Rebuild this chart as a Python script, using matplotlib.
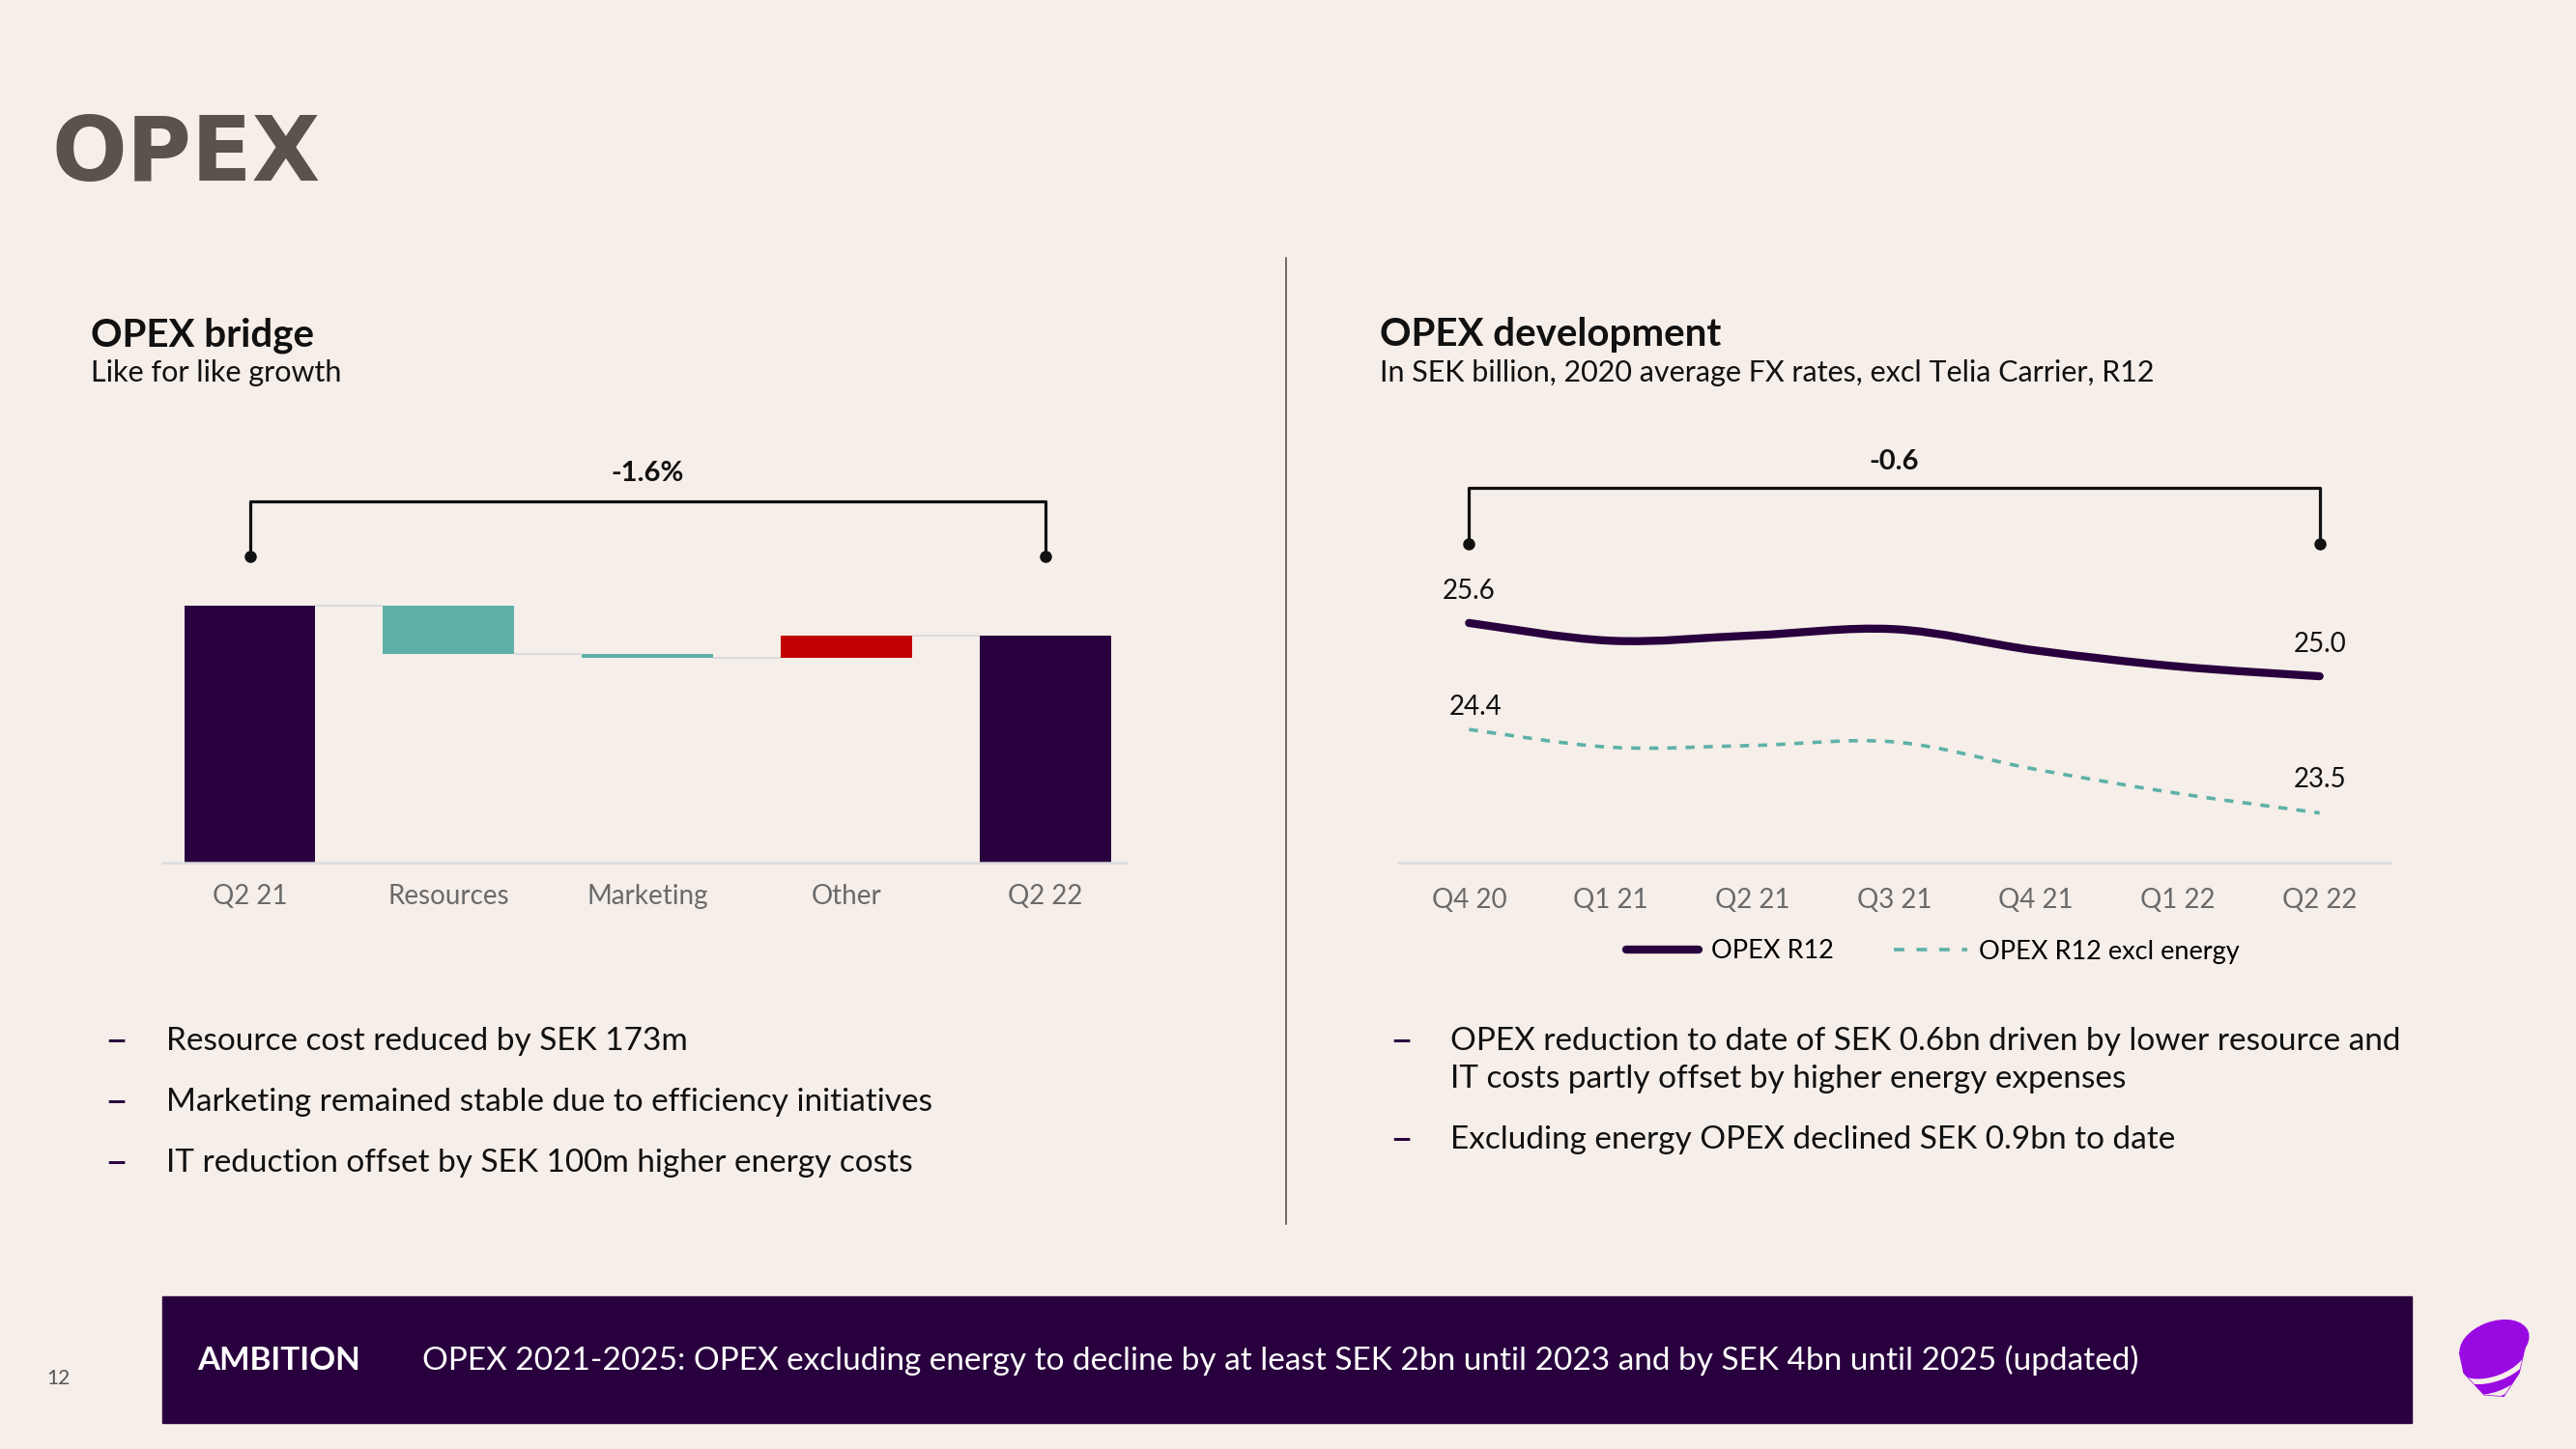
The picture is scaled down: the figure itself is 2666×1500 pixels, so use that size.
import matplotlib.pyplot as plt
import numpy as np
import matplotlib.transforms as mtransforms
from matplotlib.path import Path
from matplotlib.patches import PathPatch, Rectangle, Ellipse, Arc, Polygon
from matplotlib.lines import Line2D

plt.rcParams['font.family'] = ['Lato', 'DejaVu Sans']

# OPEX bridge, like for like (SEK m)
bridge_labels = ['Q2 21', 'Resources', 'Marketing', 'Other', 'Q2 22']
bridge_start = 6690
bridge_steps = [-173, -15, 81]
bridge_change = '-1.6%'

# OPEX development, SEK bn R12
quarters = ['Q4 20', 'Q1 21', 'Q2 21', 'Q3 21', 'Q4 21', 'Q1 22', 'Q2 22']
opex_r12 = [25.6, 25.40, 25.46, 25.53, 25.29, 25.11, 25.0]
opex_excl_energy = [24.4, 24.2, 24.22, 24.26, 23.95, 23.68, 23.46]
dev_change = '-0.6'

left_bullets = ['Resource cost reduced by SEK 173m',
                'Marketing remained stable due to efficiency initiatives',
                'IT reduction offset by SEK 100m higher energy costs']
right_bullets = [['OPEX reduction to date of SEK 0.6bn driven by lower resource and',
                  'IT costs partly offset by higher energy expenses'],
                 ['Excluding energy OPEX declined SEK 0.9bn to date']]

BG = '#f6eee8'
PURPLE = '#29003e'
TEAL = '#5db1a8'
RED = '#c00000'
GRID = '#dcdcdc'
TICK = '#6a6a6a'
TXT = '#111111'

W, H = 2666, 1500
def fx(x):
    return x / W
def fy(y):
    return 1 - y / H

fig = plt.figure(figsize=(26.66, 15), dpi=100, facecolor=BG)

# headings
fig.text(fx(54), fy(187), 'OPEX', fontsize=66, fontweight='bold', color='#5a524d', va='baseline',
         family='DejaVu Sans')
fig.text(fx(94), fy(358), 'OPEX bridge', fontsize=29, fontweight='bold', color=TXT, va='baseline')
fig.text(fx(94), fy(395), 'Like for like growth', fontsize=22, color=TXT, va='baseline')
fig.text(fx(1428), fy(358), 'OPEX development', fontsize=29, fontweight='bold', color=TXT, va='baseline')
fig.text(fx(1428), fy(395), 'In SEK billion, 2020 average FX rates, excl Telia Carrier, R12',
         fontsize=22, color=TXT, va='baseline')

# ---- waterfall
ax1 = fig.add_axes([fx(168), fy(893), (1166 - 168) / W, (893 - 440) / H])
ax1.set_facecolor('none')
totals = np.cumsum([bridge_start] + bridge_steps)
bw = 0.66
ax1.bar(0, bridge_start, width=bw, color=PURPLE)
for i, step in enumerate(bridge_steps):
    lo = min(totals[i], totals[i + 1])
    ax1.bar(i + 1, abs(step), bottom=lo, width=bw, color=TEAL if step < 0 else RED)
ax1.bar(4, totals[-1], width=bw, color=PURPLE)
for i in range(4):
    ax1.hlines(totals[i], i + bw / 2, i + 1 - bw / 2, color=GRID, lw=1.5)
ax1.set_xlim(-0.44, 4.41)
ax1.set_ylim(5762, 7342)
ax1.set_xticks(range(5), bridge_labels)
ax1.set_yticks([])
for s in ['top', 'left', 'right']:
    ax1.spines[s].set_visible(False)
ax1.spines['bottom'].set_color(GRID)
ax1.spines['bottom'].set_linewidth(1.8)
ax1.tick_params(axis='x', length=0, pad=16, labelsize=20, labelcolor=TICK)

tr1 = mtransforms.blended_transform_factory(ax1.transData, ax1.transAxes)
ax1.plot([0, 0, 4, 4], [0.70, 0.826, 0.826, 0.70], transform=tr1, color=TXT, lw=2.3, clip_on=False)
ax1.plot([0, 4], [0.70, 0.70], 'o', ms=8, color=TXT, transform=tr1, clip_on=False)
ax1.text(2, 0.89, bridge_change, transform=tr1, ha='center', va='center',
         fontsize=21, fontweight='bold', color=TXT)

# ---- OPEX development
ax2 = fig.add_axes([fx(1447), fy(893), (2474 - 1447) / W, (893 - 440) / H])
ax2.set_facecolor('none')
xq = np.arange(len(quarters))

def smooth_path(xs, ys):
    # Catmull-Rom style bezier through the points, like a smoothed office chart line
    pts = np.column_stack([xs, ys]).astype(float)
    ext = np.vstack([pts[0], pts, pts[-1]])
    verts = [pts[0]]
    codes = [Path.MOVETO]
    for i in range(len(pts) - 1):
        p0, p1, p2, p3 = ext[i], ext[i + 1], ext[i + 2], ext[i + 3]
        verts += [p1 + (p2 - p0) / 6, p2 - (p3 - p1) / 6, p2]
        codes += [Path.CURVE4] * 3
    return Path(verts, codes)

ax2.add_patch(PathPatch(smooth_path(xq, opex_r12), fill=False, edgecolor=PURPLE, lw=6,
                        capstyle='round'))
ax2.add_patch(PathPatch(smooth_path(xq, opex_excl_energy), fill=False, edgecolor=TEAL, lw=2.6,
                        linestyle=(0, (2.6, 2.6))))
ax2.set_xlim(-0.5, 6.5)
ax2.set_ylim(22.9, 27.83)
ax2.set_xticks(xq, quarters)
ax2.set_yticks([])
for s in ['top', 'left', 'right']:
    ax2.spines[s].set_visible(False)
ax2.spines['bottom'].set_color(GRID)
ax2.spines['bottom'].set_linewidth(1.8)
ax2.tick_params(axis='x', length=0, pad=19, labelsize=20, labelcolor=TICK)

for i, off in [(0, (0, 24)), (6, (0, 24))]:
    ax2.annotate(f'{opex_r12[i]:.1f}', (i, opex_r12[i]), xytext=off, textcoords='offset points',
                 ha='center', va='center', fontsize=20, color=TXT)
for i, off in [(0, (5, 17)), (6, (0, 25))]:
    ax2.annotate(f'{opex_excl_energy[i]:.1f}', (i, opex_excl_energy[i]), xytext=off,
                 textcoords='offset points', ha='center', va='center', fontsize=20, color=TXT)

tr2 = mtransforms.blended_transform_factory(ax2.transData, ax2.transAxes)
ax2.plot([0, 0, 6, 6], [0.728, 0.857, 0.857, 0.728], transform=tr2, color=TXT, lw=2.3, clip_on=False)
ax2.plot([0, 6], [0.728, 0.728], 'o', ms=8, color=TXT, transform=tr2, clip_on=False)
ax2.text(3, 0.916, dev_change, transform=tr2, ha='center', va='center',
         fontsize=21, fontweight='bold', color=TXT)

handles = [Line2D([], [], color=PURPLE, lw=6, solid_capstyle='round'),
           Line2D([], [], color=TEAL, lw=2.6, linestyle=(0, (3, 3.5)))]
fig.legend(handles, ['OPEX R12', 'OPEX R12 excl energy'], loc='center',
           bbox_to_anchor=(fx(2000), fy(985)), ncol=2, frameon=False, fontsize=19.5,
           handlelength=2.8, columnspacing=2.3, handletextpad=0.45)

# divider
fig.add_artist(Line2D([fx(1331)] * 2, [fy(267), fy(1267)], color='#555555', lw=1.2))

# bullets
def bullet(xd, xt, y, lines):
    fig.text(fx(xd), fy(y), '\u2013', fontsize=30, color=PURPLE, va='center', ha='center')
    for j, line in enumerate(lines):
        fig.text(fx(xt), fy(y + j * 39), line, fontsize=24, color=TXT, va='center')

for k, t in enumerate(left_bullets):
    bullet(120, 172, 1078 + k * 63, [t])
bullet(1450, 1501, 1078, right_bullets[0])
bullet(1450, 1501, 1180, right_bullets[1])

# ambition banner
fig.add_artist(Rectangle((fx(168), fy(1473)), (2496 - 168) / W, (1473 - 1342) / H,
                         color=PURPLE, transform=fig.transFigure))
fig.text(fx(204), fy(1408), 'AMBITION', fontsize=24, fontweight='bold', color='white', va='center')
fig.text(fx(437), fy(1408),
         'OPEX 2021-2025: OPEX excluding energy to decline by at least SEK 2bn until 2023 and by SEK 4bn until 2025 (updated)',
         fontsize=24, color='white', va='center')
fig.text(fx(60), fy(1427), '12', fontsize=15, color='#555555', ha='center', va='center')

# logo
axl = fig.add_axes([fx(2535), fy(1455), 90 / W, 90 / H])
axl.set_xlim(-0.6, 0.6)
axl.set_ylim(-0.65, 0.55)
axl.set_aspect('equal')
axl.axis('off')
LOGO = '#990ae3'
cone = Polygon([(-0.46, 0.08), (0.48, 0.32), (0.36, -0.2), (0.15, -0.52), (-0.12, -0.5), (-0.4, -0.2)],
               closed=True, color=LOGO)
axl.add_patch(cone)
axl.add_patch(Ellipse((0.02, 0.2), 0.98, 0.6, angle=20, color=LOGO))
for dy in [-0.02, -0.24]:
    a = Arc((0.0, dy), 1.02, 0.52, angle=20, theta1=180, theta2=360, color=BG, lw=4)
    axl.add_patch(a)
    a.set_clip_path(cone)

fig.savefig('out.png', dpi=100, facecolor=BG)
